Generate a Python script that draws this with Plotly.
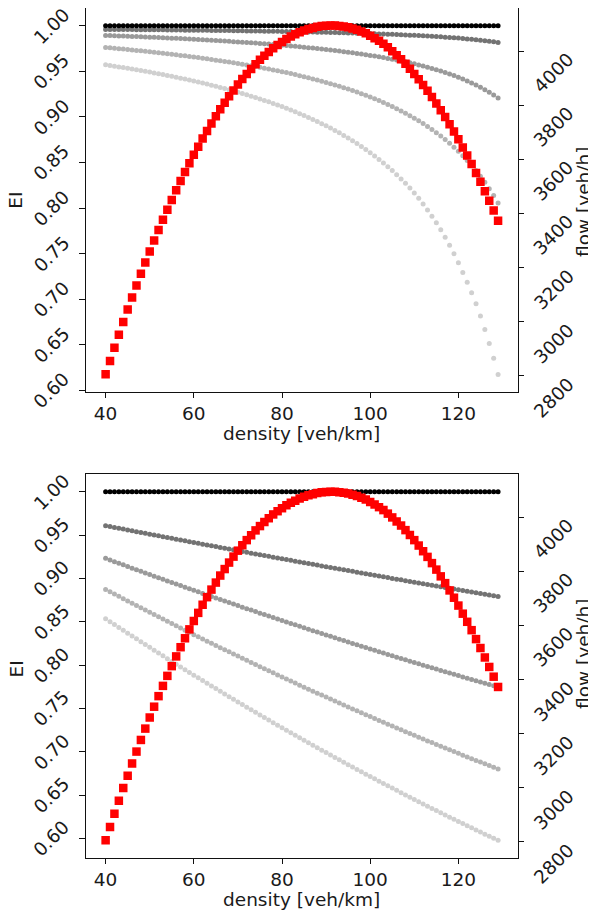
import plotly.graph_objects as go

# ---------------- data ----------------
density = [40, 41, 42, 43, 44, 45, 46, 47, 48, 49,
           50, 51, 52, 53, 54, 55, 56, 57, 58, 59,
           60, 61, 62, 63, 64, 65, 66, 67, 68, 69,
           70, 71, 72, 73, 74, 75, 76, 77, 78, 79,
           80, 81, 82, 83, 84, 85, 86, 87, 88, 89,
           90, 91, 92, 93, 94, 95, 96, 97, 98, 99,
           100, 101, 102, 103, 104, 105, 106, 107, 108, 109,
           110, 111, 112, 113, 114, 115, 116, 117, 118, 119,
           120, 121, 122, 123, 124, 125, 126, 127, 128, 129]

flow = [2806, 2855, 2904, 2952, 2999, 3045, 3090, 3134, 3177, 3219,
        3260, 3300, 3339, 3377, 3414, 3450, 3486, 3520, 3553, 3586,
        3617, 3647, 3677, 3705, 3733, 3759, 3785, 3809, 3833, 3855,
        3877, 3897, 3916, 3934, 3952, 3968, 3983, 3997, 4011, 4023,
        4034, 4045, 4054, 4062, 4070, 4076, 4082, 4086, 4090, 4093,
        4094, 4095, 4095, 4093, 4091, 4088, 4084, 4079, 4073, 4066,
        4057, 4048, 4038, 4027, 4014, 4000, 3985, 3970, 3953, 3935,
        3916, 3896, 3875, 3854, 3831, 3807, 3782, 3757, 3730, 3703,
        3674, 3644, 3614, 3583, 3550, 3517, 3482, 3447, 3411, 3373]

ei_ref = [1.0, 1.0, 1.0, 1.0, 1.0, 1.0, 1.0, 1.0, 1.0, 1.0,
          1.0, 1.0, 1.0, 1.0, 1.0, 1.0, 1.0, 1.0, 1.0, 1.0,
          1.0, 1.0, 1.0, 1.0, 1.0, 1.0, 1.0, 1.0, 1.0, 1.0,
          1.0, 1.0, 1.0, 1.0, 1.0, 1.0, 1.0, 1.0, 1.0, 1.0,
          1.0, 1.0, 1.0, 1.0, 1.0, 1.0, 1.0, 1.0, 1.0, 1.0,
          1.0, 1.0, 1.0, 1.0, 1.0, 1.0, 1.0, 1.0, 1.0, 1.0,
          1.0, 1.0, 1.0, 1.0, 1.0, 1.0, 1.0, 1.0, 1.0, 1.0,
          1.0, 1.0, 1.0, 1.0, 1.0, 1.0, 1.0, 1.0, 1.0, 1.0,
          1.0, 1.0, 1.0, 1.0, 1.0, 1.0, 1.0, 1.0, 1.0, 1.0]

# top panel EI series
top_ei_1 = [0.9960, 0.9960, 0.9959, 0.9959, 0.9959, 0.9958, 0.9958, 0.9957, 0.9957, 0.9956,
            0.9956, 0.9956, 0.9955, 0.9955, 0.9954, 0.9954, 0.9953, 0.9953, 0.9952, 0.9952,
            0.9951, 0.9951, 0.9950, 0.9950, 0.9949, 0.9948, 0.9948, 0.9947, 0.9947, 0.9946,
            0.9945, 0.9945, 0.9944, 0.9943, 0.9942, 0.9942, 0.9941, 0.9940, 0.9939, 0.9939,
            0.9938, 0.9937, 0.9936, 0.9935, 0.9934, 0.9933, 0.9932, 0.9931, 0.9930, 0.9929,
            0.9928, 0.9927, 0.9926, 0.9924, 0.9923, 0.9922, 0.9920, 0.9919, 0.9918, 0.9916,
            0.9914, 0.9913, 0.9911, 0.9909, 0.9908, 0.9906, 0.9904, 0.9902, 0.9900, 0.9897,
            0.9895, 0.9893, 0.9890, 0.9887, 0.9885, 0.9882, 0.9879, 0.9875, 0.9872, 0.9868,
            0.9865, 0.9861, 0.9856, 0.9852, 0.9847, 0.9842, 0.9836, 0.9830, 0.9824, 0.9817]

top_ei_2 = [0.9894, 0.9892, 0.9890, 0.9889, 0.9887, 0.9885, 0.9883, 0.9881, 0.9879, 0.9877,
            0.9875, 0.9873, 0.9871, 0.9868, 0.9866, 0.9864, 0.9862, 0.9859, 0.9857, 0.9854,
            0.9852, 0.9849, 0.9847, 0.9844, 0.9841, 0.9838, 0.9835, 0.9832, 0.9829, 0.9826,
            0.9823, 0.9820, 0.9817, 0.9813, 0.9810, 0.9806, 0.9803, 0.9799, 0.9795, 0.9791,
            0.9787, 0.9783, 0.9779, 0.9774, 0.9770, 0.9765, 0.9760, 0.9755, 0.9750, 0.9745,
            0.9740, 0.9734, 0.9728, 0.9722, 0.9716, 0.9710, 0.9703, 0.9697, 0.9690, 0.9683,
            0.9675, 0.9667, 0.9659, 0.9651, 0.9642, 0.9633, 0.9624, 0.9614, 0.9604, 0.9593,
            0.9582, 0.9570, 0.9558, 0.9545, 0.9532, 0.9518, 0.9503, 0.9487, 0.9471, 0.9454,
            0.9435, 0.9416, 0.9395, 0.9373, 0.9350, 0.9325, 0.9299, 0.9270, 0.9240, 0.9207]

top_ei_3 = [0.9762, 0.9758, 0.9753, 0.9749, 0.9744, 0.9739, 0.9735, 0.9730, 0.9725, 0.9720,
            0.9715, 0.9709, 0.9704, 0.9698, 0.9693, 0.9687, 0.9681, 0.9675, 0.9670, 0.9663,
            0.9657, 0.9651, 0.9644, 0.9637, 0.9631, 0.9623, 0.9616, 0.9609, 0.9602, 0.9594,
            0.9586, 0.9578, 0.9570, 0.9561, 0.9553, 0.9544, 0.9535, 0.9525, 0.9516, 0.9506,
            0.9496, 0.9486, 0.9475, 0.9464, 0.9453, 0.9441, 0.9430, 0.9417, 0.9405, 0.9392,
            0.9378, 0.9365, 0.9350, 0.9336, 0.9321, 0.9305, 0.9289, 0.9272, 0.9255, 0.9237,
            0.9218, 0.9199, 0.9179, 0.9158, 0.9136, 0.9114, 0.9090, 0.9066, 0.9041, 0.9014,
            0.8986, 0.8957, 0.8927, 0.8895, 0.8862, 0.8827, 0.8790, 0.8752, 0.8711, 0.8668,
            0.8622, 0.8574, 0.8523, 0.8469, 0.8411, 0.8349, 0.8283, 0.8212, 0.8137, 0.8055]

top_ei_4 = [0.9572, 0.9565, 0.9557, 0.9549, 0.9542, 0.9534, 0.9526, 0.9517, 0.9509, 0.9500,
            0.9492, 0.9483, 0.9474, 0.9464, 0.9455, 0.9445, 0.9435, 0.9425, 0.9415, 0.9404,
            0.9393, 0.9382, 0.9371, 0.9360, 0.9348, 0.9336, 0.9323, 0.9311, 0.9298, 0.9284,
            0.9271, 0.9257, 0.9242, 0.9228, 0.9212, 0.9197, 0.9181, 0.9165, 0.9148, 0.9130,
            0.9113, 0.9094, 0.9076, 0.9056, 0.9036, 0.9016, 0.8994, 0.8972, 0.8950, 0.8926,
            0.8902, 0.8877, 0.8851, 0.8825, 0.8797, 0.8768, 0.8738, 0.8708, 0.8676, 0.8642,
            0.8608, 0.8572, 0.8534, 0.8495, 0.8454, 0.8411, 0.8366, 0.8320, 0.8271, 0.8219,
            0.8166, 0.8107, 0.8045, 0.7980, 0.7911, 0.7838, 0.7761, 0.7679, 0.7592, 0.7499,
            0.7400, 0.7294, 0.7185, 0.7070, 0.6950, 0.6815, 0.6668, 0.6515, 0.6352, 0.6175]

# bottom panel EI series
bot_ei_1 = [0.9608, 0.9598, 0.9588, 0.9579, 0.9569, 0.9559, 0.9549, 0.9539, 0.9530, 0.9520,
            0.9510, 0.9501, 0.9491, 0.9481, 0.9472, 0.9462, 0.9452, 0.9443, 0.9433, 0.9424,
            0.9414, 0.9405, 0.9395, 0.9386, 0.9376, 0.9367, 0.9357, 0.9348, 0.9338, 0.9329,
            0.9320, 0.9310, 0.9301, 0.9291, 0.9282, 0.9273, 0.9263, 0.9254, 0.9245, 0.9236,
            0.9226, 0.9217, 0.9208, 0.9199, 0.9190, 0.9180, 0.9171, 0.9162, 0.9153, 0.9144,
            0.9135, 0.9126, 0.9117, 0.9108, 0.9099, 0.9090, 0.9081, 0.9072, 0.9063, 0.9054,
            0.9045, 0.9036, 0.9027, 0.9018, 0.9009, 0.9000, 0.8991, 0.8983, 0.8974, 0.8965,
            0.8956, 0.8947, 0.8939, 0.8930, 0.8921, 0.8912, 0.8904, 0.8895, 0.8886, 0.8878,
            0.8869, 0.8860, 0.8852, 0.8843, 0.8835, 0.8826, 0.8818, 0.8809, 0.8801, 0.8792]

bot_ei_2 = [0.9231, 0.9212, 0.9193, 0.9174, 0.9156, 0.9137, 0.9118, 0.9100, 0.9081, 0.9063,
            0.9044, 0.9026, 0.9008, 0.8989, 0.8971, 0.8953, 0.8935, 0.8917, 0.8898, 0.8880,
            0.8862, 0.8845, 0.8827, 0.8809, 0.8791, 0.8774, 0.8756, 0.8738, 0.8721, 0.8703,
            0.8686, 0.8668, 0.8651, 0.8634, 0.8617, 0.8599, 0.8582, 0.8565, 0.8548, 0.8531,
            0.8514, 0.8497, 0.8480, 0.8464, 0.8447, 0.8430, 0.8414, 0.8397, 0.8380, 0.8364,
            0.8348, 0.8331, 0.8315, 0.8299, 0.8282, 0.8266, 0.8250, 0.8234, 0.8218, 0.8202,
            0.8186, 0.8170, 0.8154, 0.8138, 0.8123, 0.8107, 0.8091, 0.8076, 0.8060, 0.8045,
            0.8030, 0.8014, 0.7999, 0.7984, 0.7968, 0.7953, 0.7938, 0.7923, 0.7908, 0.7893,
            0.7878, 0.7863, 0.7848, 0.7834, 0.7819, 0.7804, 0.7790, 0.7775, 0.7761, 0.7746]

bot_ei_3 = [0.8873, 0.8846, 0.8819, 0.8793, 0.8766, 0.8740, 0.8713, 0.8687, 0.8661, 0.8634,
            0.8608, 0.8582, 0.8556, 0.8530, 0.8505, 0.8479, 0.8453, 0.8428, 0.8402, 0.8377,
            0.8351, 0.8326, 0.8301, 0.8276, 0.8251, 0.8226, 0.8201, 0.8177, 0.8152, 0.8127,
            0.8103, 0.8078, 0.8054, 0.8030, 0.8006, 0.7981, 0.7957, 0.7933, 0.7910, 0.7886,
            0.7862, 0.7839, 0.7815, 0.7792, 0.7768, 0.7745, 0.7722, 0.7699, 0.7676, 0.7653,
            0.7630, 0.7607, 0.7584, 0.7561, 0.7539, 0.7516, 0.7494, 0.7472, 0.7449, 0.7427,
            0.7405, 0.7383, 0.7361, 0.7339, 0.7318, 0.7296, 0.7274, 0.7253, 0.7231, 0.7210,
            0.7189, 0.7168, 0.7147, 0.7125, 0.7105, 0.7084, 0.7063, 0.7042, 0.7022, 0.7001,
            0.6981, 0.6960, 0.6940, 0.6920, 0.6900, 0.6880, 0.6860, 0.6840, 0.6820, 0.6800]

bot_ei_4 = [0.8535, 0.8501, 0.8468, 0.8434, 0.8401, 0.8368, 0.8335, 0.8302, 0.8269, 0.8236,
            0.8204, 0.8171, 0.8139, 0.8107, 0.8074, 0.8042, 0.8010, 0.7978, 0.7947, 0.7915,
            0.7883, 0.7852, 0.7821, 0.7790, 0.7759, 0.7728, 0.7697, 0.7666, 0.7635, 0.7605,
            0.7574, 0.7544, 0.7514, 0.7484, 0.7454, 0.7424, 0.7394, 0.7365, 0.7335, 0.7306,
            0.7276, 0.7247, 0.7218, 0.7189, 0.7160, 0.7132, 0.7103, 0.7075, 0.7046, 0.7018,
            0.6990, 0.6962, 0.6934, 0.6906, 0.6878, 0.6850, 0.6823, 0.6795, 0.6768, 0.6741,
            0.6714, 0.6687, 0.6660, 0.6633, 0.6607, 0.6580, 0.6554, 0.6527, 0.6501, 0.6475,
            0.6449, 0.6423, 0.6398, 0.6372, 0.6346, 0.6321, 0.6296, 0.6271, 0.6245, 0.6221,
            0.6196, 0.6171, 0.6146, 0.6122, 0.6097, 0.6073, 0.6049, 0.6025, 0.6001, 0.5977]

x_ticks = [40, 60, 80, 100, 120]
ei_ticks = [0.60, 0.65, 0.70, 0.75, 0.80, 0.85, 0.90, 0.95, 1.00]
ei_tick_text = ["0.60", "0.65", "0.70", "0.75", "0.80", "0.85", "0.90", "0.95", "1.00"]
flow_ticks = [2800, 3000, 3200, 3400, 3600, 3800, 4000]
flow_tick_text = ["2800", "3000", "3200", "3400", "3600", "3800", "4000"]

# ---------------- styling ----------------
W, H = 596, 911
OFF = 8                      # the page body has an 8px margin
FW, FH = W - OFF, H - OFF
FONT = "DejaVu Sans"
FS = 18.5
TXT = "#1a1a1a"
grays = ["#737373", "#9a9a9a", "#b3b3b3", "#d0d0d0"]


def px(xp):
    return (xp - OFF) / FW


def py(yp):
    return 1 - (yp - OFF) / FH


X0, X1 = 86, 517.7
panels = [
    dict(top=8.0, bot=391.7, xa="x", ya="y", ya2="y2", ei_y=200.8, flow_y=202.5,
         series=[top_ei_1, top_ei_2, top_ei_3, top_ei_4], yr=[0.5985, 1.0195]),
    dict(top=474.3, bot=857.7, xa="x2", ya="y3", ya2="y4", ei_y=669.5, flow_y=654.5,
         series=[bot_ei_1, bot_ei_2, bot_ei_3, bot_ei_4], yr=[0.5777, 1.0201]),
]

fig = go.Figure()
layout = dict(
    width=FW, height=FH, margin=dict(l=0, r=0, t=0, b=0, autoexpand=False),
    paper_bgcolor="white", plot_bgcolor="white", showlegend=False,
    font=dict(family=FONT, size=FS, color=TXT), template=None,
)
annotations = []

axis_common = dict(showgrid=False, zeroline=False, showline=True, linecolor="#111",
                   linewidth=1.1, ticks="outside", ticklen=5.5, tickwidth=1.1,
                   tickcolor="#111", automargin=False)

for i, p in enumerate(panels):
    xa_name = "xaxis" if i == 0 else "xaxis2"
    ya_name = "yaxis" if i == 0 else "yaxis3"
    ya2_name = "yaxis2" if i == 0 else "yaxis4"
    ydom = [py(p["bot"]), py(p["top"])]
    layout[xa_name] = dict(axis_common, domain=[px(X0), px(X1)], range=[35.55, 133.45],
                           anchor=p["ya"], tickvals=x_ticks, mirror=True,
                           tickfont=dict(family=FONT, size=FS, color=TXT))
    layout[ya_name] = dict(axis_common, domain=ydom, range=p["yr"], anchor=p["xa"],
                           tickvals=ei_ticks, showticklabels=False, mirror=True)
    layout[ya2_name] = dict(axis_common, range=[2741.55, 4159.45], anchor=p["xa"],
                            overlaying=p["ya"], side="right", tickvals=flow_ticks,
                            showticklabels=False)

    # EI series (grey shades) then reference line
    for s, col in zip(p["series"], grays):
        fig.add_trace(go.Scatter(x=density, y=s, mode="markers", xaxis=p["xa"], yaxis=p["ya"],
                                 marker=dict(symbol="circle", size=5, color=col,
                                             line=dict(width=0)), hoverinfo="skip"))
    fig.add_trace(go.Scatter(x=density, y=ei_ref, mode="markers", xaxis=p["xa"], yaxis=p["ya"],
                             marker=dict(symbol="circle", size=5, color="#000000",
                                         line=dict(width=0)), hoverinfo="skip"))
    # flow
    fig.add_trace(go.Scatter(x=density, y=flow, mode="markers", xaxis=p["xa"], yaxis=p["ya2"],
                             marker=dict(symbol="square", size=8.5, color="#ff0000",
                                         line=dict(width=0)), hoverinfo="skip"))

    # rotated y tick labels
    for v, t in zip(ei_ticks, ei_tick_text):
        annotations.append(dict(text=t, x=px(76), xref="paper", y=v, yref=p["ya"],
                                xanchor="right", yanchor="middle", textangle=-45,
                                showarrow=False, yshift=-0.5,
                                font=dict(family=FONT, size=FS, color=TXT)))
    for v, t in zip(flow_ticks, flow_tick_text):
        annotations.append(dict(text=t, x=px(527), xref="paper", y=v, yref=p["ya2"],
                                xanchor="left", yanchor="top", textangle=-45,
                                showarrow=False, yshift=5.5,
                                font=dict(family=FONT, size=FS, color=TXT)))
    annotations.append(dict(text="EI", x=px(16), y=py(p["ei_y"]), xref="paper", yref="paper",
                            textangle=-90, showarrow=False, xanchor="center", yanchor="middle",
                            font=dict(family=FONT, size=FS, color=TXT)))
    annotations.append(dict(text="flow [veh/h]", x=px(583.5), y=py(p["flow_y"]), xref="paper",
                            yref="paper", textangle=-90, showarrow=False, xanchor="center",
                            yanchor="middle", font=dict(family=FONT, size=FS, color=TXT)))
    annotations.append(dict(text="density [veh/km]", x=px((X0 + X1) / 2), y=py(p["bot"] + 41.5),
                            xref="paper", yref="paper", showarrow=False, xanchor="center",
                            yanchor="middle", font=dict(family=FONT, size=FS, color=TXT)))

layout["annotations"] = annotations
fig.update_layout(**layout)
fig.write_html("out.html")
